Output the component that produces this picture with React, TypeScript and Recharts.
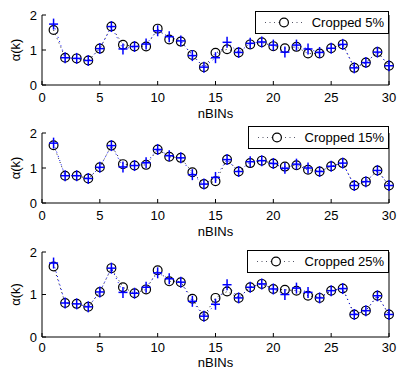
import { LineChart, Line, XAxis, YAxis } from 'recharts';

const BINS = [1, 2, 3, 4, 5, 6, 7, 8, 9, 10, 11, 12, 13, 14, 15, 16, 17, 18, 19, 20, 21, 22, 23, 24, 25, 26, 27, 28, 29, 30];
const X_TICKS = [0, 5, 10, 15, 20, 25, 30];
const Y_TICKS = [0, 1, 2];

const CROP5_O = [1.57, 0.78, 0.76, 0.7, 1.04, 1.67, 1.15, 1.1, 1.1, 1.61, 1.3, 1.24, 0.86, 0.51, 0.92, 1.02, 0.93, 1.16, 1.22, 1.11, 1.05, 1.09, 0.9, 0.9, 1.05, 1.16, 0.49, 0.64, 0.94, 0.55];
const CROP5_P = [1.74, 0.78, 0.76, 0.7, 1.04, 1.67, 1.03, 1.1, 1.17, 1.55, 1.38, 1.26, 0.84, 0.51, 0.78, 1.22, 0.93, 1.19, 1.23, 1.14, 0.94, 1.14, 1.03, 0.93, 1.05, 1.16, 0.49, 0.64, 0.94, 0.55];
const CROP15_O = [1.65, 0.78, 0.78, 0.7, 1.02, 1.64, 1.11, 1.07, 1.09, 1.53, 1.32, 1.29, 0.88, 0.54, 0.62, 1.24, 0.9, 1.14, 1.21, 1.13, 1.04, 1.08, 0.95, 0.9, 1.05, 1.14, 0.5, 0.61, 0.93, 0.5];
const CROP15_P = [1.71, 0.78, 0.78, 0.7, 1.02, 1.64, 1.03, 1.07, 1.15, 1.53, 1.35, 1.29, 0.81, 0.54, 0.73, 1.24, 0.9, 1.18, 1.21, 1.13, 0.99, 1.11, 1.0, 0.9, 1.05, 1.14, 0.5, 0.61, 0.93, 0.5];
const CROP25_O = [1.66, 0.8, 0.78, 0.71, 1.06, 1.62, 1.17, 1.03, 1.12, 1.57, 1.31, 1.29, 0.9, 0.49, 0.92, 1.07, 0.92, 1.17, 1.25, 1.13, 1.11, 1.09, 0.97, 0.92, 1.09, 1.14, 0.53, 0.62, 0.97, 0.53];
const CROP25_P = [1.74, 0.8, 0.78, 0.71, 1.06, 1.62, 1.05, 1.03, 1.17, 1.51, 1.37, 1.29, 0.84, 0.49, 0.77, 1.23, 0.92, 1.17, 1.25, 1.13, 1.0, 1.15, 1.05, 0.92, 1.09, 1.14, 0.53, 0.62, 0.97, 0.53];

const FONT = '"Liberation Sans", Arial, Helvetica, sans-serif';

const Circle = (p: any) => {
  if (p.cx == null || p.cy == null) return <g key={p.key} />;
  return <circle key={p.key} cx={p.cx} cy={p.cy} r={4.4} fill="none" stroke="#000" strokeWidth={1.2} />;
};

const Plus = (p: any) => {
  if (p.cx == null || p.cy == null) return <g key={p.key} />;
  return (
    <g key={p.key}>
      <line x1={p.cx - 4.5} x2={p.cx + 4.5} y1={p.cy} y2={p.cy} stroke="#0000ff" strokeWidth={1.5} />
      <line x1={p.cx} x2={p.cx} y1={p.cy - 5.5} y2={p.cy + 5.5} stroke="#0000ff" strokeWidth={1.5} />
    </g>
  );
};

function Panel({ top, height, axisH, tickGap, labelOffset, name, circles, pluses, legendTop, legendLeft }: any) {
  const data = BINS.map((b, i) => ({ bin: b, o: circles[i], p: pluses[i] }));
  const plotMid = 15 + (height - 15 - axisH) / 2;
  const legW = 389 - legendLeft;
  return (
    <div style={{ position: 'absolute', top, left: 0, width: 397, height }}>
      <LineChart width={397} height={height} data={data} margin={{ top: 15, right: 0, bottom: 0, left: 0 }}>
        <XAxis
          xAxisId="b"
          dataKey="bin"
          type="number"
          domain={[0, 30]}
          ticks={X_TICKS}
          interval={0}
          height={axisH}
          tickSize={-4}
          tickMargin={tickGap}
          stroke="#000"
          tick={{ fill: '#000', fontSize: 13, fontFamily: FONT }}
          label={{ value: 'nBINs', position: 'insideBottom', offset: labelOffset, fill: '#000', fontSize: 13, fontFamily: FONT }}
        />
        <XAxis
          xAxisId="t"
          orientation="top"
          dataKey="bin"
          type="number"
          domain={[0, 30]}
          ticks={X_TICKS}
          height={0}
          tickSize={-4}
          tick={false}
          stroke="#000"
        />
        <YAxis
          yAxisId="l"
          type="number"
          domain={[0, 2]}
          ticks={Y_TICKS}
          interval={0}
          width={42}
          tickSize={-4}
          tickMargin={9}
          stroke="#000"
          tick={{ fill: '#000', fontSize: 13, fontFamily: FONT }}
          label={() => (
            <text
              x={15}
              y={plotMid}
              transform={`rotate(-90 15 ${plotMid})`}
              textAnchor="middle"
              dominantBaseline="central"
              fill="#000"
              fontSize={13}
              fontFamily={FONT}
            >
              α(k)
            </text>
          )}
        />
        <YAxis
          yAxisId="r"
          orientation="right"
          type="number"
          domain={[0, 2]}
          ticks={Y_TICKS}
          width={8}
          tickSize={-4}
          tick={false}
          stroke="#000"
        />
        <Line
          xAxisId="b"
          yAxisId="l"
          dataKey="o"
          stroke="#222"
          strokeWidth={1}
          strokeDasharray="1 3.5"
          dot={Circle}
          activeDot={false}
          isAnimationActive={false}
        />
        <Line
          xAxisId="b"
          yAxisId="l"
          dataKey="p"
          stroke="#0000ff"
          strokeWidth={1}
          strokeDasharray="1 3.5"
          dot={Plus}
          activeDot={false}
          isAnimationActive={false}
        />
      </LineChart>
      <div
        style={{
          position: 'absolute',
          top: legendTop,
          left: legendLeft,
          width: legW,
          height: 23,
          boxSizing: 'border-box',
          border: '1px solid #000',
          background: '#fff',
        }}
      >
        <svg width={legW - 2} height={21} style={{ display: 'block' }}>
          <line x1={9} x2={46} y1={10.5} y2={10.5} stroke="#556" strokeDasharray="1 3.5" />
          <circle cx={28} cy={10.5} r={4.4} fill="#fff" stroke="#000" strokeWidth={1.2} />
          <text x={legW - 6} y={15} textAnchor="end" fontSize={13} fontFamily={FONT} fill="#000">
            {name}
          </text>
        </svg>
      </div>
    </div>
  );
}

export default function App() {
  return (
    <div style={{ position: 'absolute', top: 0, left: 0, width: 397, height: 370, background: '#fff' }}>
      <Panel top={0} height={120} axisH={35} tickGap={12} labelOffset={2} name="Cropped 5%" circles={CROP5_O} pluses={CROP5_P} legendTop={11} legendLeft={255} />
      <Panel top={118} height={120} axisH={35} tickGap={12} labelOffset={2} name="Cropped 15%" circles={CROP15_O} pluses={CROP15_P} legendTop={8} legendLeft={248} />
      <Panel top={237} height={133} axisH={33} tickGap={9.5} labelOffset={3} name="Cropped 25%" circles={CROP25_O} pluses={CROP25_P} legendTop={13} legendLeft={247} />
    </div>
  );
}
